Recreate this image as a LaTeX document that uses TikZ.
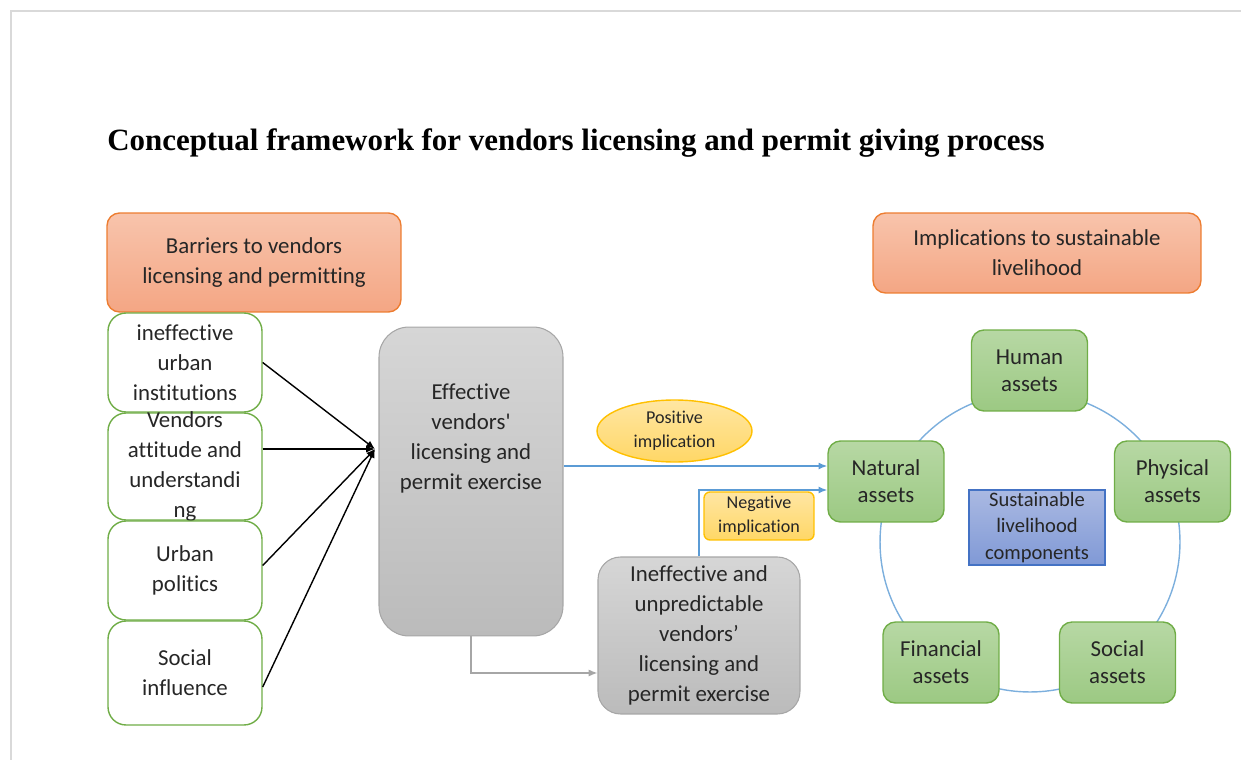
\documentclass[tikz,border=0pt]{standalone}
\usepackage{fontspec}
\setmainfont{Carlito}[Ligatures={NoCommon}]
\newfontfamily\titlefont{Liberation Serif}
\usepackage{xcolor}
\usepackage{tikz}
\usetikzlibrary{positioning,calc,arrows.meta,shapes.geometric}

\definecolor{orline}{HTML}{ED7D31}
\definecolor{ortop}{HTML}{F8C4AC}
\definecolor{orbot}{HTML}{F4A684}
\definecolor{grline}{HTML}{70AD47}
\definecolor{grtop}{HTML}{B7D8A4}
\definecolor{grbot}{HTML}{9CC983}
\definecolor{gyline}{HTML}{A6A6A6}
\definecolor{gytop}{HTML}{D6D6D6}
\definecolor{gybot}{HTML}{BBBBBB}
\definecolor{ylline}{HTML}{FFC000}
\definecolor{yltop}{HTML}{FFE6A3}
\definecolor{ylbot}{HTML}{FFD766}
\definecolor{blline}{HTML}{4472C4}
\definecolor{bltop}{HTML}{AAB9E2}
\definecolor{blbot}{HTML}{8099D6}
\definecolor{arrblue}{HTML}{5B9BD5}
\definecolor{txt}{HTML}{262626}

\tikzset{
	boxtext/.style={text=txt, align=center, inner sep=1pt, font=\fontsize{13}{17}\selectfont},
	headbox/.style={boxtext, draw=orline, line width=0.8pt, rounded corners=0.25cm, top color=ortop, bottom color=orbot},
	barrierbox/.style={draw=grline, line width=0.8pt, fill=white, rounded corners=0.36cm, minimum width=3.08cm, boxtext},
	outcomebox/.style={boxtext, draw=gyline, line width=0.6pt, top color=gytop, bottom color=gybot},
	assetbox/.style={boxtext, draw=grline, line width=0.8pt, rounded corners=0.25cm, top color=grtop, bottom color=grbot, minimum width=2.32cm, minimum height=1.62cm, font=\fontsize{13}{15.5}\selectfont},
	implbox/.style={boxtext, draw=ylline, line width=0.8pt, top color=yltop, bottom color=ylbot, font=\fontsize{10.3}{13.6}\selectfont},
	link/.style={black, line width=0.8pt, -{Latex[length=5pt,width=4pt]}},
	bluelink/.style={arrblue, line width=0.8pt, -{Latex[length=5pt,width=4pt]}},
}

\begin{document}
\begin{tikzpicture}[x=0.02cm,y=-0.02cm]
	\useasboundingbox (0,0) rectangle (1241,760);
	\draw[gray!30, line width=1.5pt] (1241,11) -- (11,11) -- (11,760);

	\node[font=\titlefont\bfseries\fontsize{17.6}{20}\selectfont, anchor=west, inner sep=0pt] (title) at (107,143) {Conceptual framework for vendors licensing and permit giving process};

	% headings
	\node[headbox, minimum width=5.88cm, minimum height=1.98cm] (barr) at (254,262.5) {Barriers to vendors\\licensing and permitting};
	\node[headbox, minimum width=6.56cm, minimum height=1.6cm] (impl) at (1037,253) {Implications to sustainable\\livelihood};

	% barriers
	\node[barrierbox, minimum height=1.98cm] (inst) at (185,362.5) {ineffective\\urban\\institutions};
	\node[barrierbox, minimum height=2.14cm] (att) at (185,466.5) {};
	\node[boxtext] at (att) {Vendors\\attitude and\\understandi\\ng};
	\node[barrierbox, minimum height=1.98cm] (pol) at (185,570.5) {Urban\\politics};
	\node[barrierbox, minimum height=2.08cm] (soci) at (185,673) {Social\\influence};

	% licensing outcomes
	\node[outcomebox, rounded corners=0.6cm, minimum width=3.68cm, minimum height=6.18cm] (eff) at (471,481.5) {};
	\node[boxtext] at ([yshift=-2.24cm]eff.north) {Effective\\vendors\textquotesingle\\licensing and\\permit exercise};
	\node[outcomebox, rounded corners=0.45cm, minimum width=4.04cm, minimum height=3.14cm] (ineff) at (699,635.5) {Ineffective and\\unpredictable\\vendors’\\licensing and\\permit exercise};

	\coordinate (hub) at (375,449);
	\draw[link] (inst.east) -- (hub);
	\draw[link] (att.east |- hub) -- (hub);
	\draw[link] ([yshift=0.1cm]pol.east) -- (hub);
	\draw[link] ([yshift=-0.28cm]soci.east) -- (hub);

	\draw[gyline, line width=0.8pt, -{Latex[length=5pt,width=4pt]}] (eff.south) |- ([yshift=-0.75cm]ineff.west);

	% livelihood assets
	\draw[arrblue!80, line width=0.8pt] (1030,542) circle[radius=3cm];
	\node[assetbox] (hum) at (1029.5,370.5) {Human\\assets};
	\node[assetbox] (nat) at (886,481.5) {Natural\\assets};
	\node[assetbox] (phy) at (1172.5,481.5) {Physical\\assets};
	\node[assetbox] (fin) at (941,662.5) {Financial\\assets};
	\node[assetbox] (soc) at (1117.5,662.5) {Social\\assets};
	\node[boxtext, draw=blline, line width=0.8pt, top color=bltop, bottom color=blbot, minimum width=2.72cm, minimum height=1.5cm, font=\fontsize{11.7}{15.1}\selectfont] (comp) at (1037,527.5) {Sustainable\\livelihood\\components};

	% implications
	\draw[bluelink] ([yshift=0.31cm]eff.east) -- ([yshift=0.31cm]nat.west);
	\draw[bluelink] (ineff.north) |- ([yshift=-0.17cm]nat.west);
	\node[implbox, ellipse, minimum width=3.1cm, minimum height=1.24cm] (posi) at (674.5,431) {Positive\\implication};
	\node[implbox, rounded corners=0.12cm, minimum width=2.2cm, minimum height=0.96cm] (nega) at (759,516) {Negative\\implication};
\end{tikzpicture}
\end{document}
